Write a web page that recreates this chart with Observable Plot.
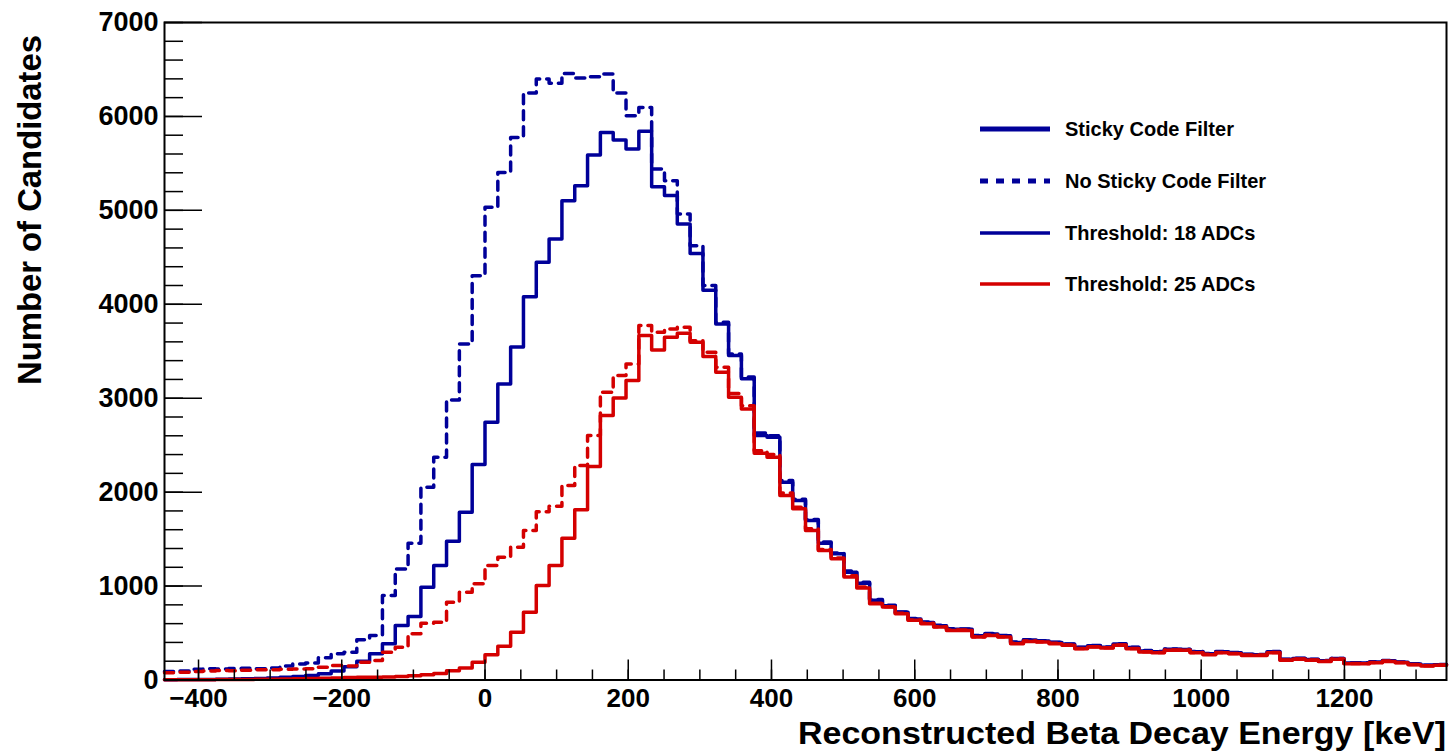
<!DOCTYPE html>
<html><head><meta charset="utf-8">
<script src="https://cdn.jsdelivr.net/npm/d3@7"></script>
<script src="https://cdn.jsdelivr.net/npm/@observablehq/plot@0.6"></script>
<style>
html,body{margin:0;padding:0;background:#fff;}
#chart svg{display:block;}
</style></head><body><div id="chart"></div>
<script>
// Histogram binning (100 bins)
const binStart = -447.5;
const binWidth = 17.9;

// Series values per bin (counts)
const blueSolid = [3,4,5,6,8,10,12,15,20,30,38,48,66,95,140,200,279,385,580,676,988,1219,1477,1786,2293,
  2744,3152,3545,4081,4447,4695,5103,5263,5590,5830,5749,5653,5841,5252,5157,4855,4542,4150,
  3791,3454,3206,2602,2584,2105,1910,1697,1456,1343,1147,1030,850,790,720,650,612,578,540,540,470,490,470,
  400,425,415,400,380,345,365,350,382,345,310,300,328,325,300,280,300,290,272,270,300,218,230,218,206,228,
  182,182,192,206,190,170,156,162];
const blueDashed = [90,95,115,120,118,122,125,120,128,150,170,180,236,279,296,428,474,899,1183,1456,2052,2371,2982,3578,4305,
  5032,5404,5777,6249,6398,6352,6458,6409,6423,6451,6249,6008,6096,5441,5316,4962,4624,
  4200,3810,3470,3225,2630,2600,2125,1925,1710,1470,1352,1160,1040,858,795,725,655,618,582,545,543,474,494,473,
  404,428,418,403,384,348,368,352,386,348,313,303,331,327,303,283,303,293,275,272,303,221,232,220,208,230,
  184,184,194,208,192,172,158,164];
const redSolid = [2,2,3,3,4,5,6,7,9,11,13,15,18,22,26,28,30,32,36,45,55,70,98,128,188,
  270,358,509,722,1006,1219,1510,1813,2274,2815,3003,3188,3667,3514,3649,3691,3595,3443,
  3276,3010,2886,2414,2371,1964,1822,1591,1379,1290,1096,980,812,776,706,635,599,564,528,528,458,475,458,
  387,411,404,387,369,333,351,340,369,333,298,291,316,316,291,270,291,280,262,262,291,209,220,209,198,220,
  174,174,184,198,184,163,149,156];
const redDashed = [78,82,90,95,100,98,105,110,108,115,118,120,136,154,150,189,207,296,349,492,605,615,828,934,1024,
  1219,1307,1413,1591,1790,1850,2070,2283,2602,3063,3241,3365,3773,3702,3738,3756,3613,3489,
  3329,3050,2920,2440,2400,1990,1840,1610,1390,1300,1110,990,818,780,710,640,603,567,531,532,461,478,461,
  390,414,407,390,372,336,354,343,372,336,301,294,319,319,294,273,294,283,265,265,294,212,223,212,201,223,
  177,177,187,201,187,166,152,159];

// Axis ticks
const xMajorTicks = [-400,-200,0,200,400,600,800,1000,1200];
const xMinorTicks = [-400,-350,-300,-250,-200,-150,-100,-50,0,50,100,150,200,250,300,350,400,450,500,550,600,650,700,750,800,850,900,950,1000,1050,1100,1150,1200,1250,1300];
const yMajorTicks = [0,1000,2000,3000,4000,5000,6000,7000];
const yMinorTicks = d3.range(0, 7001, 200);

// Legend
const legendLabels = ["Sticky Code Filter","No Sticky Code Filter","Threshold: 18 ADCs","Threshold: 25 ADCs"];
const xTitle = "Reconstructed Beta Decay Energy [keV]";
const yTitle = "Number of Candidates";

const BLUE = "#000099", RED = "#d40000";
const FONT = '"Liberation Sans", Arial, Helvetica, sans-serif';

const nb = blueSolid.length;
const edges = d3.range(nb + 1).map(i => binStart + i * binWidth);
const steps = (vals) => edges.map((x, i) => ({x, y: vals[Math.min(i, nb - 1)]}));
const fmt = d => d < 0 ? "\u2212" + Math.abs(d) : String(d);

const plot = Plot.plot({
  width: 1452, height: 755,
  marginLeft: 164, marginRight: 6, marginTop: 22, marginBottom: 75.5,
  style: {fontFamily: FONT, fontWeight: "bold", fontSize: "27px", color: "black", background: "white", overflow: "visible"},
  x: {domain: [binStart, binStart + nb * binWidth]},
  y: {domain: [0, 7000]},
  marks: [
    Plot.line(steps(blueDashed), {x: "x", y: "y", curve: "step-after", stroke: BLUE, strokeWidth: 3.5, strokeDasharray: "9,7"}),
    Plot.line(steps(blueSolid), {x: "x", y: "y", curve: "step-after", stroke: BLUE, strokeWidth: 3.5}),
    Plot.line(steps(redDashed), {x: "x", y: "y", curve: "step-after", stroke: RED, strokeWidth: 3.5, strokeDasharray: "9,7"}),
    Plot.line(steps(redSolid), {x: "x", y: "y", curve: "step-after", stroke: RED, strokeWidth: 3.5}),
    Plot.axisX(xMinorTicks, {anchor: "bottom", tickSize: -10, tickFormat: () => "", label: null, strokeWidth: 1.5}),
    Plot.axisX(xMajorTicks, {anchor: "bottom", tickSize: -20, tickPadding: 29, tickFormat: fmt, label: null, strokeWidth: 1.5, fontSize: 26}),
    Plot.axisY(yMinorTicks, {anchor: "left", tickSize: -19, tickFormat: () => "", label: null, strokeWidth: 1.5}),
    Plot.axisY(yMajorTicks, {anchor: "left", tickSize: -38, tickPadding: 44, tickFormat: d => String(d), label: null, strokeWidth: 1.5}),
    Plot.frame({stroke: "black", strokeWidth: 2})
  ]
});

const svg = d3.select(plot);
svg.append("text")
  .attr("x", 1446).attr("y", 744)
  .attr("text-anchor", "end")
  .attr("font-family", FONT).attr("font-weight", "bold").attr("font-size", 31)
  .attr("textLength", 648).attr("lengthAdjust", "spacingAndGlyphs")
  .attr("fill", "black")
  .text(xTitle);
svg.append("text")
  .attr("transform", "translate(41,210) rotate(-90)")
  .attr("text-anchor", "middle")
  .attr("font-family", FONT).attr("font-weight", "bold").attr("font-size", 34)
  .attr("textLength", 350).attr("lengthAdjust", "spacingAndGlyphs")
  .attr("fill", "black")
  .text(yTitle);

const legend = svg.append("g").attr("font-family", FONT).attr("font-weight", "bold").attr("font-size", 20).attr("text-anchor", "start");
const legendStyles = [
  {stroke: BLUE, w: 5, dash: null, y: 129},
  {stroke: BLUE, w: 5, dash: "8,8", y: 181},
  {stroke: BLUE, w: 3.5, dash: null, y: 233},
  {stroke: RED, w: 3.5, dash: null, y: 284}
];
legendStyles.forEach((s, i) => {
  legend.append("line").attr("x1", 980).attr("x2", 1050).attr("y1", s.y).attr("y2", s.y)
    .attr("stroke", s.stroke).attr("stroke-width", s.w).attr("stroke-dasharray", s.dash);
  legend.append("text").attr("x", 1065).attr("y", s.y).attr("dy", "0.36em")
    .attr("text-anchor", "start").attr("fill", "black").text(legendLabels[i]);
});

document.getElementById("chart").appendChild(plot);
</script>
</body></html>
